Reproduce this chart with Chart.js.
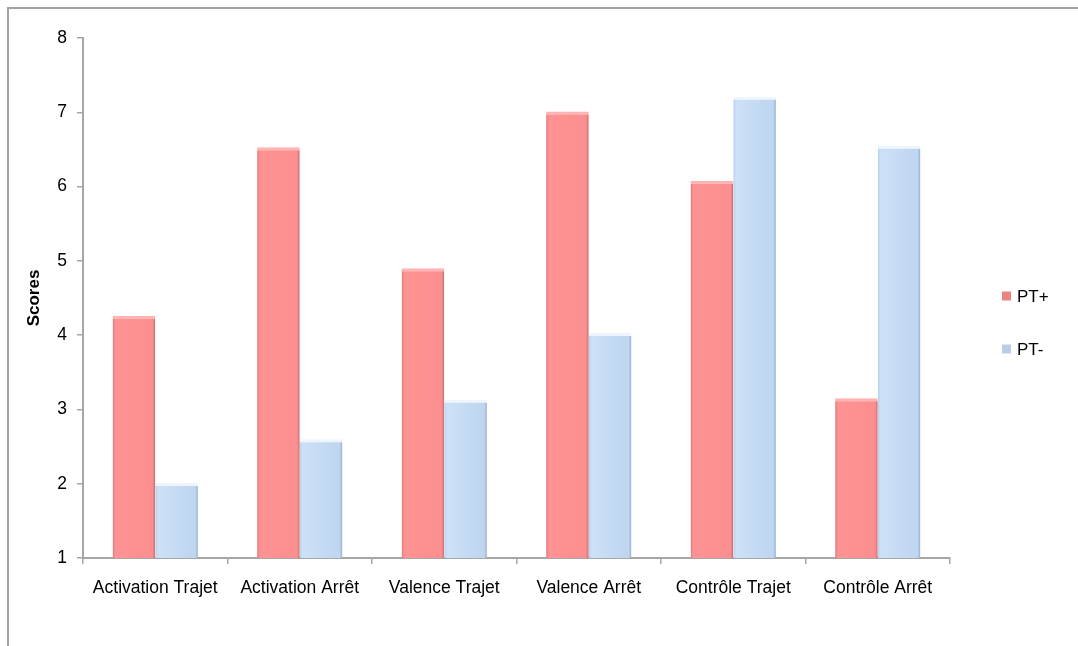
<!DOCTYPE html>
<html>
<head>
<meta charset="utf-8">
<script src="https://cdn.jsdelivr.net/npm/chart.js@4/dist/chart.umd.min.js"></script>
<style>
  html, body { margin: 0; padding: 0; background: #fff; overflow: hidden; }
  #wrap { position: relative; width: 1078px; height: 646px; }
  #frame { position: absolute; left: 7px; top: 7px; width: 1200px; height: 800px;
           border-top: 2px solid #a3a3a3; border-left: 2px solid #a3a3a3; }
  canvas { position: absolute; left: 0; top: 0; }
</style>
</head>
<body>
<div id="wrap">
  <div id="frame"></div>
  <canvas id="myChart" width="1078" height="646"></canvas>
</div>
<script>
const categories = [
  'Activation Trajet',
  'Activation Arrêt',
  'Valence Trajet',
  'Valence Arrêt',
  'Contrôle Trajet',
  'Contrôle Arrêt'
]
const seriesNames = ['PT+', 'PT-']
const ptPlus = [4.26, 6.53, 4.90, 7.01, 6.08, 3.15]
const ptMinus = [2.01, 2.60, 3.13, 4.03, 7.21, 6.55]

const CAT_PCT = 0.59
const font = 'Liberation Sans, Arial, Helvetica, sans-serif'

const colors = {
  red: { edgeL: '#e17a7a', mid: '#ff9393', midR: '#fb8e8e', edgeR: '#c46a6a', top: '#ffb3b3', legend: '#ee8282' },
  blue: { edgeL: '#b9d1ec', mid: '#cde1f6', midR: '#bfd6f0', edgeR: '#90abcc', top: '#eef5fd', legend: '#b7cde8' }
}

// horizontal bevel-like gradient, worked out from the x scale
function barFill(c) {
  const col = c.datasetIndex === 0 ? colors.red : colors.blue
  const chart = c.chart
  const xs = chart.scales.x
  if (!xs || c.dataIndex === undefined || !xs.width) return col.mid
  const cw = xs.width / categories.length
  const bw = cw * CAT_PCT / 2
  const left = xs.getPixelForValue(c.dataIndex) - bw + c.datasetIndex * bw
  const g = chart.ctx.createLinearGradient(left, 0, left + bw, 0)
  g.addColorStop(0, col.edgeL)
  g.addColorStop(0.07, col.mid)
  g.addColorStop(0.85, col.midR)
  g.addColorStop(0.94, col.midR)
  g.addColorStop(1, col.edgeR)
  return g
}

const sideLegend = {
  id: 'sideLegend',
  afterDraw(chart) {
    const ctx = chart.ctx
    const x = chart.chartArea.right + 52
    const gap = 53
    ctx.save()
    ctx.font = '17px ' + font
    ctx.textBaseline = 'middle'
    seriesNames.forEach((name, i) => {
      const y = chart.height / 2 + (i - 0.5) * gap
      ctx.fillStyle = i === 0 ? colors.red.legend : colors.blue.legend
      ctx.fillRect(x, y - 5, 9, 9)
      ctx.fillStyle = '#000'
      ctx.fillText(name, x + 15, y + 1)
    })
    ctx.restore()
  }
}

const ctx = document.getElementById('myChart').getContext('2d')

const data = {
  labels: categories,
  datasets: [
    {
      label: seriesNames[0],
      data: ptPlus,
      backgroundColor: barFill,
      borderColor: colors.red.top,
      borderWidth: { top: 3, left: 0, right: 0, bottom: 0 },
      borderSkipped: 'bottom'
    },
    {
      label: seriesNames[1],
      data: ptMinus,
      backgroundColor: barFill,
      borderColor: colors.blue.top,
      borderWidth: { top: 3, left: 0, right: 0, bottom: 0 },
      borderSkipped: 'bottom'
    }
  ]
}

const axisGrey = '#a6a6a6'

const config = {
  type: 'bar',
  data: data,
  plugins: [sideLegend],
  options: {
    responsive: false,
    animation: false,
    devicePixelRatio: 1,
    categoryPercentage: CAT_PCT,
    barPercentage: 1,
    layout: { padding: { left: 20, top: 38, right: 128, bottom: 48 } },
    plugins: {
      legend: { display: false },
      tooltip: { enabled: false }
    },
    scales: {
      x: {
        afterFit(scale) { scale.height = 40 },
        grid: {
          display: true,
          drawOnChartArea: false,
          offset: true,
          tickLength: 6,
          color: axisGrey,
          lineWidth: 1.5
        },
        border: { color: axisGrey, width: 2 },
        ticks: {
          color: '#000',
          padding: 14,
          maxRotation: 0,
          font: { family: font, size: 17.5 }
        }
      },
      y: {
        min: 1,
        max: 8,
        afterFit(scale) { scale.width = 63 },
        grid: {
          display: true,
          drawOnChartArea: false,
          tickLength: 6,
          color: axisGrey,
          lineWidth: 1.5
        },
        border: { color: axisGrey, width: 2 },
        ticks: {
          stepSize: 1,
          color: '#000',
          padding: 10,
          font: { family: font, size: 17.5 }
        },
        title: {
          display: true,
          text: 'Scores',
          color: '#000',
          padding: { top: 4, bottom: 4 },
          font: { family: font, size: 17, weight: 'bold' }
        }
      }
    }
  }
}

const myChart = new Chart(ctx, config)
</script>
</body>
</html>
